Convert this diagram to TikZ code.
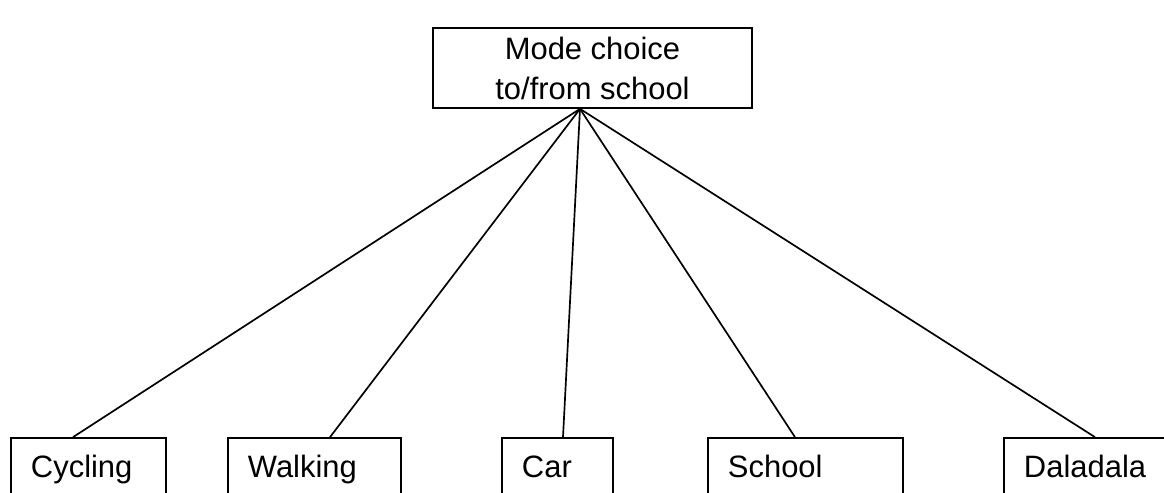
\documentclass[tikz,border=0pt]{standalone}
\usepackage{fontspec}
\setmainfont{Liberation Sans}

\begin{document}
\begin{tikzpicture}[x=0.025cm,y=-0.025cm,line width=1.2pt,
  box/.style={draw,rectangle,inner ysep=0pt,font=\fontsize{22}{28.5}\selectfont},
  leaf/.style={box,inner xsep=0.5cm,minimum height=1.6cm,text height=0.55cm,text depth=0.2cm,align=left}]
  \clip (0,0) rectangle (1164,493);

  \node[box,minimum width=7.975cm,minimum height=2cm,align=center] (mode) at (592.5,68) {Mode choice\\to/from school};

  \node[leaf,text width=2.875cm] (cyc) at (88.5,470) {Cycling};
  \node[leaf,text width=3.325cm] (walk) at (314.5,470) {Walking};
  \node[leaf,text width=1.775cm] (car) at (557.5,470) {Car};
  \node[leaf,text width=3.875cm] (school) at (805.5,470) {School};
  \node[leaf,text width=3.5cm] (dala) at (1094,470) {Daladala};

  \draw ([xshift=-0.3125cm]mode.south) -- ([xshift=-0.3875cm]cyc.north);
  \draw ([xshift=-0.3125cm]mode.south) -- ([xshift=0.3875cm]walk.north);
  \draw ([xshift=-0.3125cm]mode.south) -- ([xshift=0.1375cm]car.north);
  \draw ([xshift=-0.3125cm]mode.south) -- ([xshift=-0.2625cm]school.north);
  \draw ([xshift=-0.3125cm]mode.south) -- ([xshift=0.025cm]dala.north);
\end{tikzpicture}
\end{document}
